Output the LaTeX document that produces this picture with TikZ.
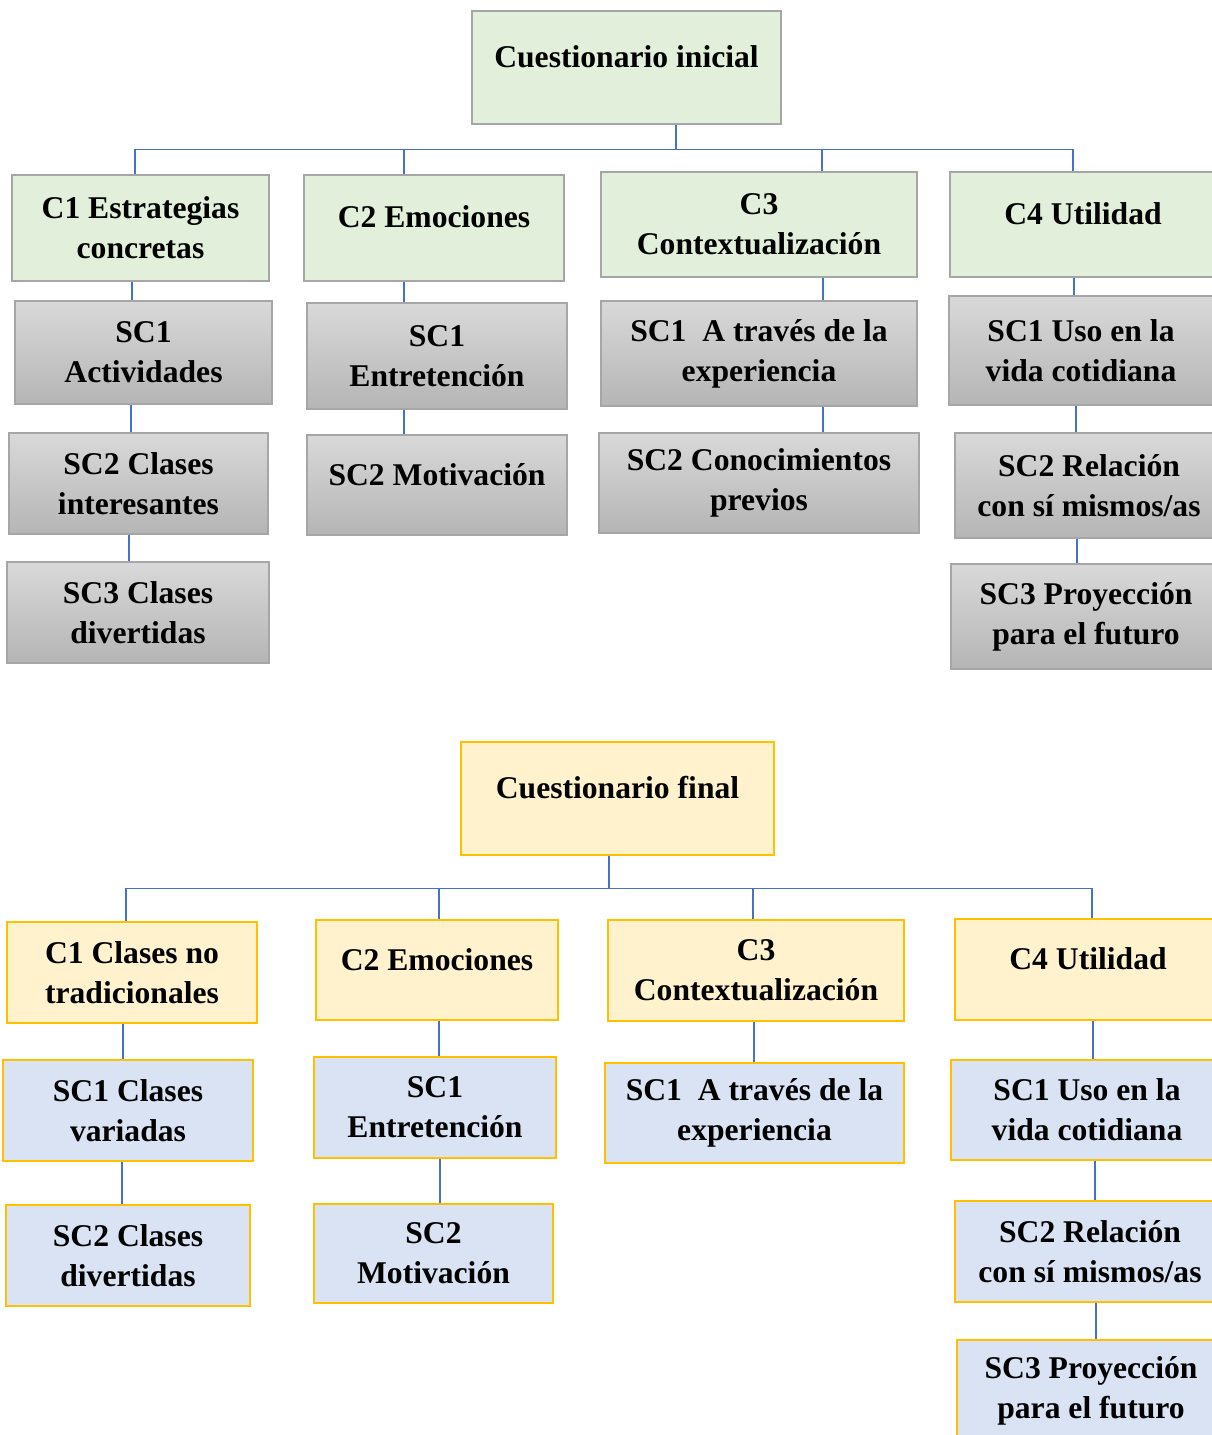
\documentclass[tikz,border=0pt]{standalone}
\usepackage{fontspec}
\setmainfont{Liberation Serif}
\definecolor{greenfill}{HTML}{E2EFDA}
\definecolor{yellowfill}{HTML}{FFF2CC}
\definecolor{bluefill}{HTML}{DAE3F3}
\definecolor{goldline}{HTML}{FFC000}
\definecolor{greyline}{HTML}{A6A6A6}
\definecolor{linkblue}{HTML}{4472C4}
\tikzset{
  box/.style={draw,line width=0.8pt,inner sep=2pt,align=center,
    font=\fontsize{18}{22.8}\selectfont\bfseries},
  oneline/.style={text height=0.5cm,text depth=0.5cm},
  catA/.style={box,draw=greyline,fill=greenfill},
  subA/.style={box,draw=greyline,top color=black!15,bottom color=black!29},
  catB/.style={box,draw=goldline,fill=yellowfill},
  subB/.style={box,draw=goldline,fill=bluefill},
  link/.style={draw=linkblue,line width=0.8pt}
}
\begin{document}
\begin{tikzpicture}[x=0.02cm,y=-0.02cm]
  \useasboundingbox (0,0) rectangle (1212,1435);
  % cuestionario inicial
  \node[catA,oneline,minimum width=6.18cm,minimum height=2.26cm] (root1) at (626.5,67.5) {Cuestionario inicial};
  \node[catA,minimum width=5.14cm,minimum height=2.12cm] (tC1) at (140.5,228) {C1 Estrategias\\concretas};
  \node[catA,oneline,minimum width=5.2cm,minimum height=2.12cm] (tC2) at (434,228) {C2 Emociones};
  \node[catA,minimum width=6.32cm,minimum height=2.1cm] (tC3) at (759,224.5) {C3\\Contextualización};
  \node[catA,oneline,minimum width=5.32cm,minimum height=2.1cm] (tC4) at (1083,224.5) {C4 Utilidad};
  \node[subA,minimum width=5.14cm,minimum height=2.06cm] (tS11) at (143.5,352.5) {SC1\\Actividades};
  \node[subA,minimum width=5.18cm,minimum height=2.02cm] (tS12) at (138.5,483.5) {SC2 Clases\\interesantes};
  \node[subA,minimum width=5.24cm,minimum height=2.02cm] (tS13) at (138,612.5) {SC3 Clases\\divertidas};
  \node[subA,minimum width=5.2cm,minimum height=2.12cm] (tS21) at (437,356) {SC1\\Entretención};
  \node[subA,oneline,minimum width=5.2cm,minimum height=2.0cm] (tS22) at (437,485) {SC2 Motivación};
  \node[subA,minimum width=6.32cm,minimum height=2.1cm] (tS31) at (759,353.5) {SC1\ \ A través de la\\experiencia};
  \node[subA,minimum width=6.4cm,minimum height=2.0cm] (tS32) at (759,483) {SC2 Conocimientos\\previos};
  \node[subA,minimum width=5.28cm,minimum height=2.18cm] (tS41) at (1081,350.5) {SC1 Uso en la\\vida cotidiana};
  \node[subA,minimum width=5.36cm,minimum height=2.1cm] (tS42) at (1089,485.5) {SC2 Relación\\con sí mismos/as};
  \node[subA,minimum width=5.4cm,minimum height=2.1cm] (tS43) at (1086,616.5) {SC3 Proyección\\para el futuro};
  % conectores arriba
  \draw[link] (root1.south -| 676,0) -- ++(0,25) coordinate (bus1);
  \draw[link] (bus1) -| (tC1.north -| 135,0);
  \draw[link] (bus1) -| (tC2.north -| 404,0);
  \draw[link] (bus1) -| (tC3.north -| 822,0);
  \draw[link] (bus1) -| (tC4.north -| 1073,0);
  \draw[link] (tC1.south -| 132,0) -- (tS11.north -| 132,0);
  \draw[link] (tS11.south -| 131,0) -- (tS12.north -| 131,0);
  \draw[link] (tS12.south -| 129,0) -- (tS13.north -| 129,0);
  \draw[link] (tC2.south -| 404,0) -- (tS21.north -| 404,0);
  \draw[link] (tS21.south -| 404,0) -- (tS22.north -| 404,0);
  \draw[link] (tC3.south -| 823,0) -- (tS31.north -| 823,0);
  \draw[link] (tS31.south -| 823,0) -- (tS32.north -| 823,0);
  \draw[link] (tC4.south -| 1074,0) -- (tS41.north -| 1074,0);
  \draw[link] (tS41.south -| 1076,0) -- (tS42.north -| 1076,0);
  \draw[link] (tS42.south -| 1077,0) -- (tS43.north -| 1077,0);
  % cuestionario final
  \node[catB,oneline,minimum width=6.26cm,minimum height=2.26cm] (root2) at (617.5,798.5) {Cuestionario final};
  \node[catB,minimum width=5.0cm,minimum height=2.02cm] (bC1) at (132,972.5) {C1 Clases no\\tradicionales};
  \node[catB,oneline,minimum width=4.84cm,minimum height=2.0cm] (bC2) at (437,970) {C2 Emociones};
  \node[catB,minimum width=5.92cm,minimum height=2.02cm] (bC3) at (756,970.5) {C3\\Contextualización};
  \node[catB,oneline,minimum width=5.32cm,minimum height=2.02cm] (bC4) at (1088,969.5) {C4 Utilidad};
  \node[subB,minimum width=5.0cm,minimum height=2.02cm] (bS11) at (128,1110.5) {SC1 Clases\\variadas};
  \node[subB,minimum width=4.88cm,minimum height=2.02cm] (bS12) at (128,1255.5) {SC2 Clases\\divertidas};
  \node[subB,minimum width=4.84cm,minimum height=2.02cm] (bS21) at (435,1107.5) {SC1\\Entretención};
  \node[subB,minimum width=4.78cm,minimum height=1.98cm] (bS22) at (433.5,1253.5) {SC2\\Motivación};
  \node[subB,minimum width=5.98cm,minimum height=2.0cm] (bS31) at (754.5,1113) {SC1\ \ A través de la\\experiencia};
  \node[subB,minimum width=5.44cm,minimum height=2.0cm] (bS41) at (1087,1110) {SC1 Uso en la\\vida cotidiana};
  \node[subB,minimum width=5.4cm,minimum height=2.02cm] (bS42) at (1090,1251.5) {SC2 Relación\\con sí mismos/as};
  \node[subB,minimum width=5.36cm,minimum height=2.04cm] (bS43) at (1091,1391) {SC3 Proyección\\para el futuro};
  % conectores abajo
  \draw[link] (root2.south -| 609,0) -- ++(0,33) coordinate (bus2);
  \draw[link] (bus2) -| (bC1.north -| 126,0);
  \draw[link] (bus2) -| (bC2.north -| 439,0);
  \draw[link] (bus2) -| (bC3.north -| 753,0);
  \draw[link] (bus2) -| (bC4.north -| 1092,0);
  \draw[link] (bC1.south -| 123,0) -- (bS11.north -| 123,0);
  \draw[link] (bS11.south -| 122,0) -- (bS12.north -| 122,0);
  \draw[link] (bC2.south -| 439,0) -- (bS21.north -| 439,0);
  \draw[link] (bS21.south -| 440,0) -- (bS22.north -| 440,0);
  \draw[link] (bC3.south -| 754,0) -- (bS31.north -| 754,0);
  \draw[link] (bC4.south -| 1093,0) -- (bS41.north -| 1093,0);
  \draw[link] (bS41.south -| 1095,0) -- (bS42.north -| 1095,0);
  \draw[link] (bS42.south -| 1096,0) -- (bS43.north -| 1096,0);
\end{tikzpicture}
\end{document}
